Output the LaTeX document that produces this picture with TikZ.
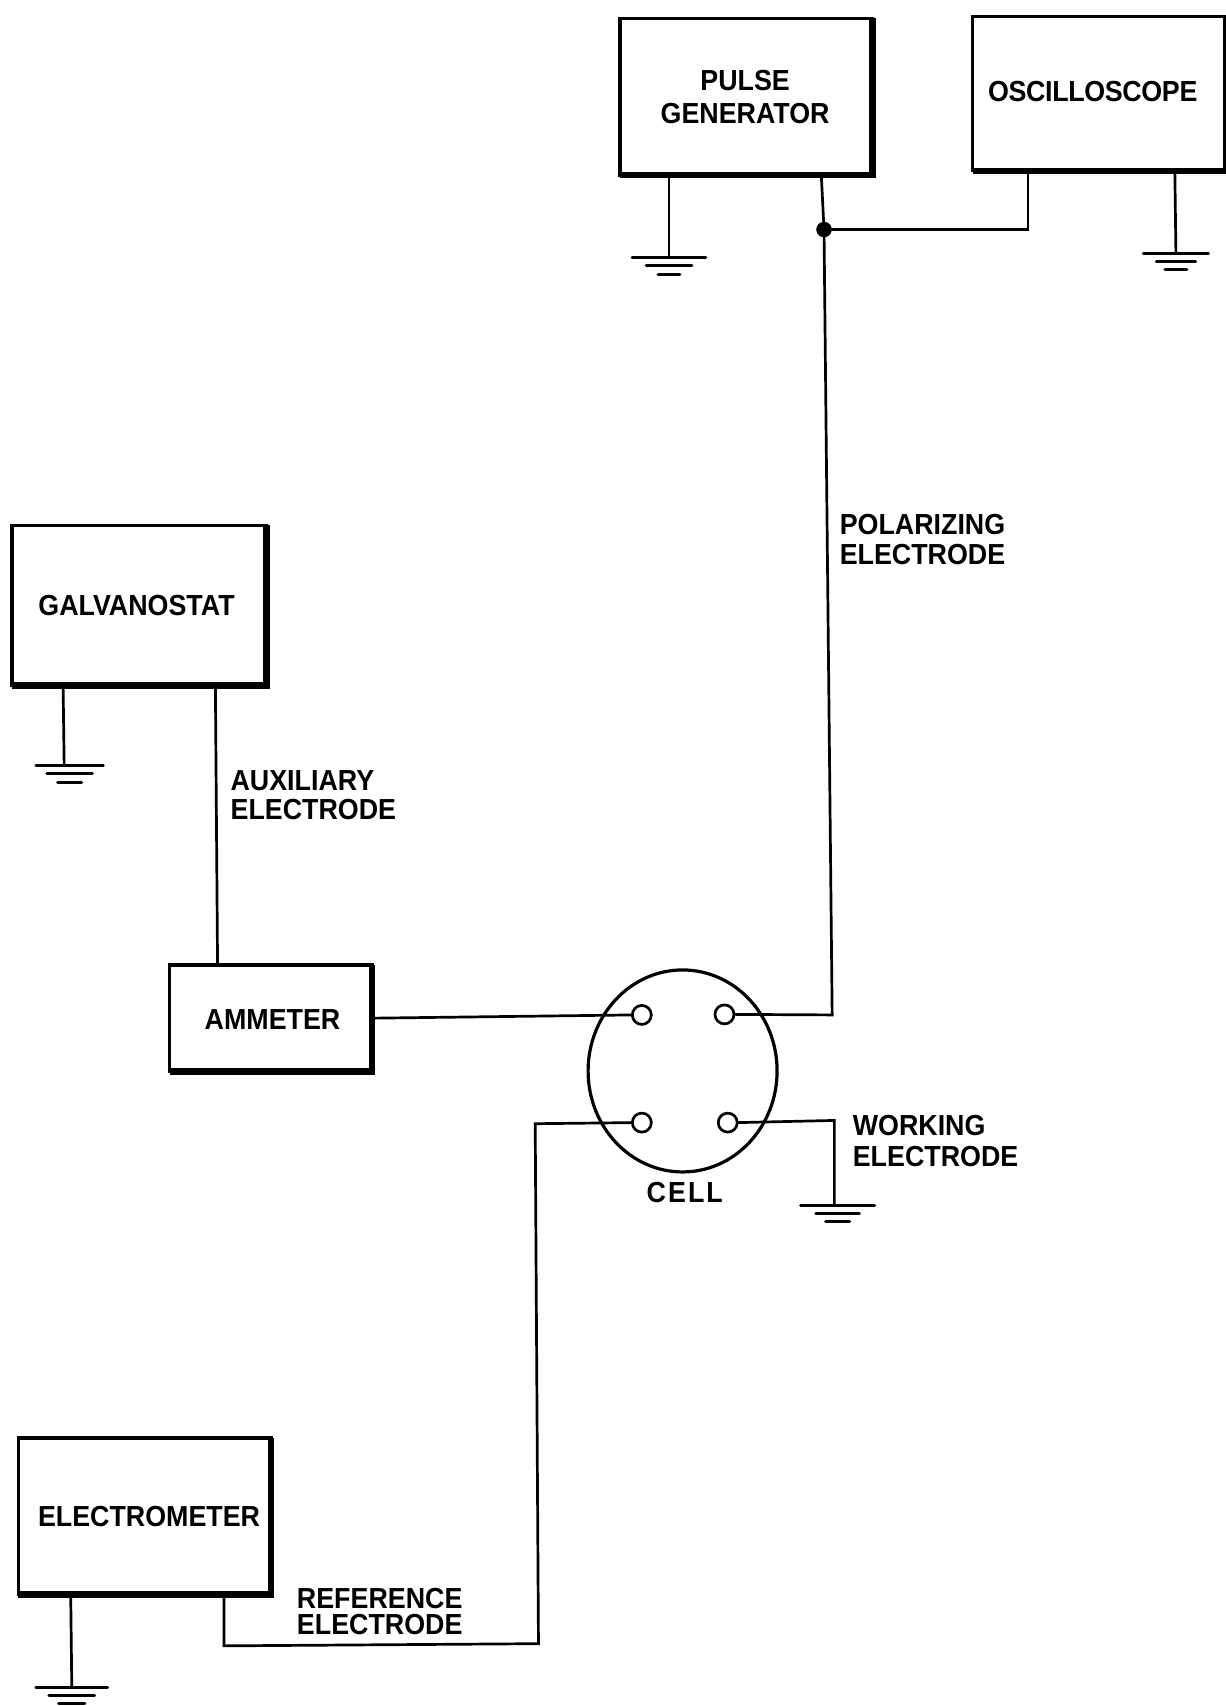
\documentclass[tikz,border=0pt]{standalone}
\usepackage{fontspec}
\usetikzlibrary{shapes.geometric}
\newfontfamily\lab[FakeStretch=0.925]{Liberation Sans Bold}
\tikzset{
  x=1.0878pt,y=-1.0878pt,
  wire/.style={line width=2.7pt,line join=miter,black},
  thickedge/.style={line width=6.5pt,line join=miter,line cap=square,black},
  unitbox/.style={draw=black,line width=3.4pt,rectangle,inner sep=0pt,outer sep=0pt},
  term/.style={draw=black,fill=white,line width=2.7pt,circle,minimum size=19pt,inner sep=0pt,outer sep=0pt},
  txt/.style={inner sep=0pt,outer sep=0pt,text=black,font=\lab\fontsize{29}{#1}\selectfont},
  txt/.default=30
}
\newcommand{\unit}[6]{% name, L, T, R, B, text
  \node[unitbox,minimum width={(#4-#2)*1.0878pt},minimum height={(#5-#3)*1.0878pt}] (#1) at ({(#2+#4)/2},{(#3+#5)/2}) {};
  \draw[thickedge] (#1.north east) -- (#1.south east) -- (#1.south west);
}
\newcommand{\gnd}[6]{% name, x, y, half widths
  \coordinate (#1) at (#2,#3);
  \draw[line width=2.8pt,black,line cap=round] (#2-#4,#3) -- (#2+#4,#3);
  \draw[line width=3pt,black,line cap=round] (#2-#5,#3+7.5) -- (#2+#5,#3+7.5);
  \draw[line width=3.2pt,black,line cap=round] (#2-#6,#3+15) -- (#2+#6,#3+15);
}
\begin{document}
\begin{tikzpicture}
\useasboundingbox (0,0) rectangle (1127,1568.3);
% boxes
\unit{pulse}{570}{17}{802}{161}{}
\unit{osc}{894}{15}{1127}{157}{}
\unit{galv}{11}{483}{245}{630}{}
\unit{amm}{156}{887}{342}{985}{}
\unit{elec}{17}{1322}{249}{1466}{}
% labels in boxes
\node[txt=32.5,align=center] (pulsetxt) at (685,89) {PULSE\\GENERATOR};
\node[txt] (osctxt) at (1004.5,84) {\addfontfeature{LetterSpace=-1.2}OSCILLOSCOPE};
\node[txt] (galvtxt) at (125.5,557) {GALVANOSTAT};
\node[txt] (ammtxt) at (250.5,937) {AMMETER};
\node[txt] (electxt) at (137,1394) {ELECTROMETER};
% cell
\node[draw=black,line width=3.2pt,ellipse,minimum width=189pt,minimum height=202pt,inner sep=0pt,outer sep=0pt] (cell) at (627.5,984.5) {};
\node[term] (ta) at (590,933) {};
\node[term] (tb) at (666,932.5) {};
\node[term] (tc) at (590,1032) {};
\node[term] (td) at (669,1032) {};
\node[txt] (celltxt) at (629.5,1096.5) {\addfontfeature{LetterSpace=7}CELL};
% free labels
\node[txt=29.5,align=left,anchor=west] (poltxt) at (772,496) {POLARIZING\\ELECTRODE};
\node[txt=28.5,align=left,anchor=west] (auxtxt) at (212,731) {AUXILIARY\\ELECTRODE};
\node[txt=31,align=left,anchor=west] (worktxt) at (784,1049) {WORKING\\ELECTRODE};
\node[txt=26,align=left,anchor=west] (reftxt) at (273,1481) {REFERENCE\\ELECTRODE};
% grounds
\gnd{gp}{615}{237}{34}{21}{10}
\gnd{go}{1081}{233}{30}{18}{10}
\gnd{gg}{64}{704}{31}{21}{11}
\gnd{ge}{66}{1551}{33}{21}{12}
\gnd{gw}{770}{1108}{34}{20}{11}
% bend and tap coordinates
\coordinate (pg1) at (615,161);
\coordinate (pg2) at (755,161);
\coordinate (jn) at (757.5,211);
\coordinate (bendb) at (765,933);
\coordinate (os1) at (945,157);
\coordinate (bendo) at (945,211);
\coordinate (os2) at (1080,157);
\coordinate (ga1) at (58,630);
\coordinate (ggt) at (59,704);
\coordinate (ga2) at (198,630);
\coordinate (am1) at (200,887);
\coordinate (am2) at (342,936);
\coordinate (el1) at (65,1466);
\coordinate (el2) at (206,1466);
\coordinate (be1) at (206,1513);
\coordinate (be2) at (495,1511);
\coordinate (be3) at (492,1033);
\coordinate (bw) at (767,1030);
\coordinate (wg) at (767,1108);
% connectors
\draw[wire] (pg1) -- (gp);
\draw[wire] (os2) -- (go);
\draw[wire] (ga1) -- (ggt);
\draw[wire] (el1) -- (ge);
\draw[wire] (ga2) -- (am1);
\draw[wire] (pg2) -- (jn) -- (bendb) -- (tb.east);
\draw[wire] (jn) -- (bendo) -- (os1);
\draw[wire] (am2) -- (ta.west);
\draw[wire] (el2) -- (be1) -- (be2) -- (be3) -- (tc.west);
\draw[wire] (td.east) -- (bw) -- (wg);
\node[draw=black,fill=black,circle,minimum size=15pt,inner sep=0pt] (jdot) at (jn) {};
\end{tikzpicture}
\end{document}
